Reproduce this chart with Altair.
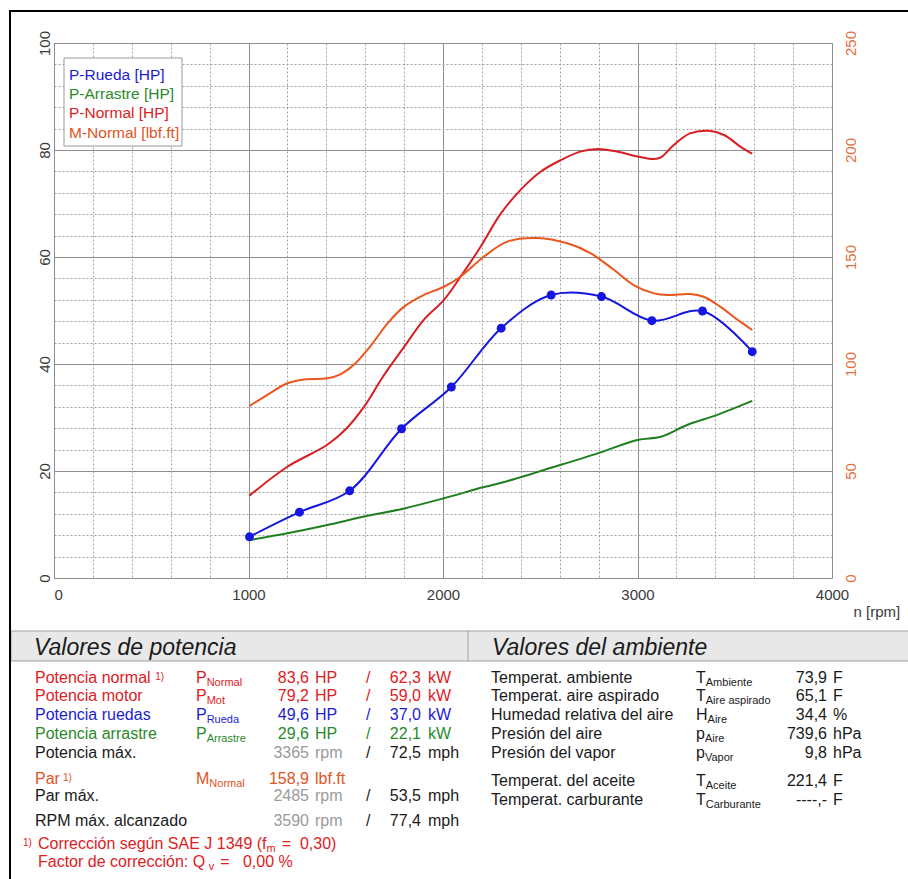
import altair as alt
import pandas as pd

# ---------------- dyno curves (rpm -> value) ----------------
rueda_rpm = [1005, 1262, 1520, 1787, 2043, 2299, 2556, 2815, 3074, 3334, 3590]
rueda_hp = [7.7, 12.3, 16.3, 27.9, 35.7, 46.7, 52.9, 52.6, 48.1, 49.9, 42.3]

arrastre_rpm = [1005, 1200, 1405, 1595, 1800, 2005, 2210, 2300, 2450, 2520,
                2795, 3000, 3120, 3255, 3410, 3590]
arrastre_hp = [7.1, 8.35, 9.9, 11.5, 13.0, 14.9, 17.0, 17.8, 19.4, 20.2,
               23.3, 25.8, 26.4, 28.6, 30.5, 33.1]

normal_rpm = [1005, 1200, 1405, 1505, 1600, 1680, 1715, 1800, 1900, 2005,
              2090, 2195, 2295, 2400, 2500, 2605, 2705, 2795, 2895, 3000,
              3085, 3120, 3185, 3270, 3365, 3445, 3530, 3590]
normal_hp = [15.4, 20.8, 24.9, 28.0, 32.3, 37.0, 38.9, 43.2, 48.2, 52.0,
             56.3, 62.0, 68.0, 72.6, 75.9, 78.1, 79.7, 80.2, 79.7, 78.8,
             78.3, 78.6, 80.9, 83.1, 83.6, 82.8, 80.6, 79.3]

par_rpm = [1005, 1095, 1200, 1285, 1405, 1475, 1540, 1625, 1715, 1800,
           1900, 2005, 2090, 2210, 2330, 2485, 2640, 2760, 2880, 2980,
           3085, 3155, 3270, 3340, 3425, 3515, 3590]
par_lbft = [80.4, 85.5, 91.0, 92.8, 93.3, 95.3, 99.5, 108.1, 119.0, 126.8,
            132.2, 136.1, 140.8, 150.1, 157.2, 158.9, 156.4, 151.7, 143.9, 136.9,
            133.0, 132.2, 132.7, 131.4, 126.8, 120.6, 115.9]

# ---------------- legend and result tables ----------------
legend_labels = ["P-Rueda [HP]", "P-Arrastre [HP]", "P-Normal [HP]", "M-Normal [lbf.ft]"]

header_left = "Valores de potencia"
header_right = "Valores del ambiente"

pot_labels = ["Potencia normal", "Potencia motor", "Potencia ruedas", "Potencia arrastre", "Potencia máx."]
pot_sym = ["P", "P", "P", "P", ""]
pot_sub = ["Normal", "Mot", "Rueda", "Arrastre", ""]
pot_v1 = ["83,6", "79,2", "49,6", "29,6", "3365"]
pot_u1 = ["HP", "HP", "HP", "HP", "rpm"]
pot_v2 = ["62,3", "59,0", "37,0", "22,1", "72,5"]
pot_u2 = ["kW", "kW", "kW", "kW", "mph"]

par_labels = ["Par", "Par máx.", "RPM máx. alcanzado"]
par_sym = ["M", "", ""]
par_sub = ["Normal", "", ""]
par_v1 = ["158,9", "2485", "3590"]
par_u1 = ["lbf.ft", "rpm", "rpm"]
par_v2 = ["", "53,5", "77,4"]
par_u2 = ["", "mph", "mph"]

foot_1 = ["Corrección según SAE J 1349 (f", "m", "=\u00a0\u00a00,30)"]
foot_2 = ["Factor de corrección: Q", "v", "=\u00a0\u00a0\u00a00,00 %"]

amb_labels = ["Temperat. ambiente", "Temperat. aire aspirado", "Humedad relativa del aire",
              "Presión del aire", "Presión del vapor", "Temperat. del aceite", "Temperat. carburante"]
amb_sym = ["T", "T", "H", "p", "p", "T", "T"]
amb_sub = ["Ambiente", "Aire aspirado", "Aire", "Aire", "Vapor", "Aceite", "Carburante"]
amb_val = ["73,9", "65,1", "34,4", "739,6", "9,8", "221,4", "----,-"]
amb_unit = ["F", "F", "%", "hPa", "hPa", "F", "F"]

# ---------------- styling ----------------
FONT = "Liberation Sans"
PAGE_W, PAGE_H = 908, 879
L, T, W, H = 54, 43, 778, 535

C_BLUE_LINE = "#1616e0"
C_GREEN_LINE = "#1f7f1f"
C_RED_LINE = "#d81e22"
C_ORANGE_LINE = "#ea561e"

RED = "#e0201e"
BLUE = "#1c1cd4"
GREEN = "#2a8a2a"
ORANGE = "#e2531f"
BLACK = "#1a1a1a"
GRAY = "#9a9a9a"

MAJOR = "#8e8e8e"
MINOR = "#a0a0a0"
AXIS_TXT = "#3a3a3a"
RIGHT_TXT = "#e27040"

# Helvetica/Arial advance widths (per 1000 em) for placing sub/superscripts
_groups = [("ijlí", 222), (" \u00a0!,./:[]ftI", 278), ("()-r", 333),
           ("Jckstvxyz", 500), ("0123456789abdeghnopquáéóúLñ", 556), ("=", 584),
           ("FTZ", 611), ("ABEKPSVXY", 667), ("CDHNRUw", 722), ("GOQ", 778),
           ("Mm", 833), ("%", 889), ("W", 944)]
ADV = {ch: w for chars, w in _groups for ch in chars}


def tw(s, size):
    return sum(ADV.get(ch, 556) for ch in s) * size / 1000.0


# ---------------- axes ----------------
x_axis = alt.Axis(
    values=list(range(0, 4001, 200)), format="d",
    labelExpr="datum.value % 1000 === 0 ? datum.label : ''",
    grid=True, gridWidth=1,
    gridColor={"condition": {"test": "datum.value % 1000 === 0", "value": MAJOR}, "value": MINOR},
    gridDash={"condition": {"test": "datum.value % 1000 === 0", "value": []}, "value": [2, 2]},
    ticks=False, domain=False,
    labelFont=FONT, labelFontSize=15, labelColor=AXIS_TXT, labelPadding=9,
    labelAlign={"condition": {"test": "datum.value === 0", "value": "left"}, "value": "center"},
    labelOverlap=False, labelBound=False, labelFlush=False,
    title="n [rpm]", titleFont=FONT, titleFontSize=15, titleFontWeight="normal",
    titleColor=AXIS_TXT, titleX=799, titleY=33, titleAlign="left", titleBaseline="middle",
)

hp_axis = alt.Axis(
    values=list(range(0, 101, 4)),
    labelExpr="datum.value % 20 === 0 ? datum.label : ''",
    grid=True, gridWidth=1,
    gridColor={"condition": {"test": "datum.value % 20 === 0", "value": MAJOR}, "value": MINOR},
    gridDash={"condition": {"test": "datum.value % 20 === 0", "value": []}, "value": [2, 2]},
    ticks=False, domain=False,
    labelFont=FONT, labelFontSize=15, labelColor=AXIS_TXT,
    labelAngle=270, labelAlign="center", labelBaseline="bottom", labelPadding=2,
    labelOverlap=False, labelBound=False, labelFlush=False,
    title=None,
)

tq_axis = alt.Axis(
    orient="right", values=list(range(0, 251, 50)),
    grid=False, ticks=False, domain=False,
    labelFont=FONT, labelFontSize=15, labelColor=RIGHT_TXT,
    labelAngle=270, labelAlign="center", labelBaseline="top", labelPadding=11,
    labelOverlap=False, labelBound=False, labelFlush=False,
    title=None,
)

xs = alt.Scale(domain=[0, 4000], nice=False, zero=False)
hp_s = alt.Scale(domain=[0, 100], nice=False, zero=False)
tq_s = alt.Scale(domain=[0, 250], nice=False, zero=False)


def curve(rpm, vals):
    return pd.DataFrame({"rpm": rpm, "v": vals})


def hp_enc(ch):
    return ch.encode(x=alt.X("rpm:Q", scale=xs, axis=x_axis),
                     y=alt.Y("v:Q", scale=hp_s, axis=hp_axis))


arrastre_line = hp_enc(alt.Chart(curve(arrastre_rpm, arrastre_hp)).mark_line(
    color=C_GREEN_LINE, strokeWidth=2, interpolate="catmull-rom"))
normal_line = hp_enc(alt.Chart(curve(normal_rpm, normal_hp)).mark_line(
    color=C_RED_LINE, strokeWidth=2, interpolate="catmull-rom"))
rueda_line = hp_enc(alt.Chart(curve(rueda_rpm, rueda_hp)).mark_line(
    color=C_BLUE_LINE, strokeWidth=2, interpolate="catmull-rom"))
rueda_pts = hp_enc(alt.Chart(curve(rueda_rpm, rueda_hp)).mark_circle(
    color=C_BLUE_LINE, size=80, opacity=1))

hp_group = alt.layer(arrastre_line, normal_line, rueda_line, rueda_pts)

torque_line = alt.Chart(curve(par_rpm, par_lbft)).mark_line(
    color=C_ORANGE_LINE, strokeWidth=2, interpolate="catmull-rom").encode(
    x=alt.X("rpm:Q", scale=xs, axis=None),
    y=alt.Y("v:Q", scale=tq_s, axis=tq_axis))

# ---------------- page annotations (frame, legend, tables) ----------------
ann_x = alt.Scale(domain=[0, PAGE_W], range=[-L, PAGE_W - L], nice=False, zero=False)
ann_y = alt.Scale(domain=[0, PAGE_H], range=[-T, PAGE_H - T], nice=False, zero=False)

texts = []


def put(x, y, text, color, size=16, align="left", style="normal"):
    if text:
        texts.append({"x": x, "y": y, "text": text, "color": color, "size": size,
                      "align": align, "style": style})


BODY, SUB, SUP = 16, 11, 10
SUB_DY, SUP_DY = 5, -1

# legend
leg_colors = [BLUE, GREEN, RED, ORANGE]
for i, lab in enumerate(legend_labels):
    put(69, 75 + i * 19.2, lab, leg_colors[i], 15.5)

# headers
put(34, 648, header_left, BLACK, 23, style="italic")
put(492, 648, header_right, BLACK, 23, style="italic")

# left table columns
C_LAB, C_SYM, C_V1, C_U1, C_SL, C_V2, C_U2 = 35, 196, 309, 315, 366, 421, 428
pot_rows = [678, 696, 715, 734, 753]
pot_colors = [RED, RED, BLUE, GREEN, BLACK]
for i, lab in enumerate(pot_labels):
    y, c = pot_rows[i], pot_colors[i]
    put(C_LAB, y, lab, c)
    if i == 0:
        put(C_LAB + tw(lab, BODY) + 1, y + SUP_DY, "1)", c, SUP)
    if pot_sym[i]:
        put(C_SYM, y, pot_sym[i], c)
        put(C_SYM + tw(pot_sym[i], BODY), y + SUB_DY, pot_sub[i], c, SUB)
    vc = c if pot_sym[i] else GRAY
    put(C_V1, y, pot_v1[i], vc, align="right")
    put(C_U1, y, pot_u1[i], vc)
    put(C_SL, y, "/", c)
    put(C_V2, y, pot_v2[i], c, align="right")
    put(C_U2, y, pot_u2[i], c)

par_rows = [779, 796, 821]
par_colors = [ORANGE, BLACK, BLACK]
for i, lab in enumerate(par_labels):
    y, c = par_rows[i], par_colors[i]
    put(C_LAB, y, lab, c)
    if i == 0:
        put(C_LAB + tw(lab, BODY) + 3, y + SUP_DY, "1)", c, SUP)
    if par_sym[i]:
        put(C_SYM, y, par_sym[i], c)
        put(C_SYM + tw(par_sym[i], BODY), y + SUB_DY, par_sub[i], c, SUB)
    vc = c if par_sym[i] else GRAY
    put(C_V1, y, par_v1[i], vc, align="right")
    put(C_U1, y, par_u1[i], vc)
    if par_v2[i]:
        put(C_SL, y, "/", c)
        put(C_V2, y, par_v2[i], c, align="right")
        put(C_U2, y, par_u2[i], c)

# footnote
FX = 38
put(23, 844 + SUP_DY, "1)", RED, SUP)
for y, parts in [(844, foot_1), (862, foot_2)]:
    x = FX
    put(x, y, parts[0], RED)
    x += tw(parts[0], BODY)
    put(x, y + SUB_DY, parts[1], RED, SUB)
    x += tw(parts[1], SUB) + 6
    put(x, y, parts[2], RED)

# right table
R_LAB, R_SYM, R_VAL, R_UNIT = 491, 696, 827, 833
amb_rows = [678, 696, 715, 734, 753, 781, 800]
for i, lab in enumerate(amb_labels):
    y = amb_rows[i]
    put(R_LAB, y, lab, BLACK)
    put(R_SYM, y, amb_sym[i], BLACK)
    put(R_SYM + tw(amb_sym[i], BODY), y + SUB_DY, amb_sub[i], BLACK, SUB)
    put(R_VAL, y, amb_val[i], BLACK, align="right")
    put(R_UNIT, y, amb_unit[i], BLACK)

tdf = pd.DataFrame(texts)


def text_layer(df, align, style):
    return alt.Chart(df).mark_text(align=align, baseline="middle", font=FONT, fontStyle=style).encode(
        x=alt.X("x:Q", scale=ann_x, axis=None),
        y=alt.Y("y:Q", scale=ann_y, axis=None),
        text="text:N",
        color=alt.Color("color:N", scale=None),
        size=alt.Size("size:Q", scale=None),
    )


def box_layer(df, **style):
    return alt.Chart(df).mark_rect(**style).encode(
        x=alt.X("x0:Q", scale=ann_x, axis=None), x2="x1:Q",
        y=alt.Y("y0:Q", scale=ann_y, axis=None), y2="y1:Q",
    )


# the sheet's frame continues past the right and bottom edges of the page
frame = box_layer(pd.DataFrame({"x0": [10], "x1": [PAGE_W + 20], "y0": [11], "y1": [PAGE_H + 20]}),
                  fillOpacity=0, stroke="#000000", strokeWidth=2)
band = box_layer(pd.DataFrame({"x0": [11], "x1": [PAGE_W + 20], "y0": [631], "y1": [661]}),
                 fill="#e8e8e8", stroke="#a0a0a0", strokeWidth=1)
legend_box = box_layer(pd.DataFrame({"x0": [64], "x1": [182], "y0": [58], "y1": [146]}),
                       fill="#ffffff", stroke="#9a9a9a", strokeWidth=1)
divider = alt.Chart(pd.DataFrame({"x": [468], "y0": [631], "y1": [661]})).mark_rule(
    color="#a0a0a0", strokeWidth=1).encode(
    x=alt.X("x:Q", scale=ann_x, axis=None),
    y=alt.Y("y0:Q", scale=ann_y, axis=None), y2="y1:Q")

annot = alt.layer(
    band, divider, legend_box, frame,
    text_layer(tdf[(tdf["align"] == "left") & (tdf["style"] == "normal")], "left", "normal"),
    text_layer(tdf[tdf["align"] == "right"], "right", "normal"),
    text_layer(tdf[tdf["style"] == "italic"], "left", "italic"),
)

chart = alt.layer(hp_group, torque_line, annot).resolve_scale(
    x="independent", y="independent", color="independent", size="independent"
).properties(
    width=W, height=H,
    padding={"left": L, "top": T, "right": PAGE_W - L - W, "bottom": PAGE_H - T - H},
    autosize=alt.AutoSizeParams(type="none"),
    background="#ffffff",
).configure_view(stroke=MAJOR, strokeWidth=1)

chart.save("out.html", embed_options={"renderer": "svg", "actions": False})
